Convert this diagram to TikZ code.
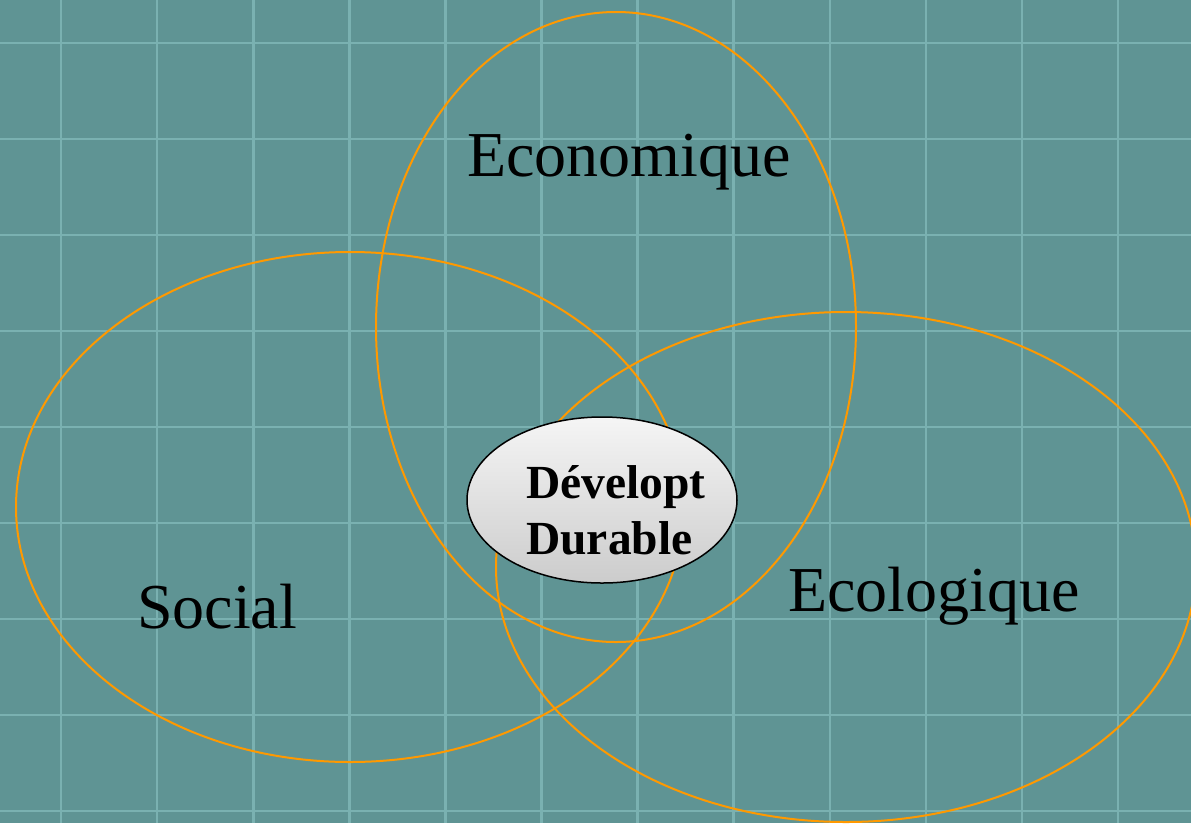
\documentclass[tikz,border=0pt]{standalone}
\usepackage{fontspec}
\setmainfont{Liberation Serif}
\usetikzlibrary{shapes.geometric}
\definecolor{bg}{HTML}{5F9494}
\definecolor{gridc}{HTML}{7AB1B1}
\definecolor{orangec}{HTML}{FF9900}
\tikzset{
  ring/.style={draw=orangec, line width=2pt},
  bigtext/.style={anchor=base west, inner sep=0pt, font=\fontsize{64}{70}\selectfont, text=black},
  ddtext/.style={anchor=base west, inner sep=0pt, font=\fontsize{47.5}{52}\selectfont\bfseries, text=black},
  gridline/.style={draw=gridc, line width=2.6pt},
}
\begin{document}
\begin{tikzpicture}[x=1pt,y=-1pt]
\useasboundingbox (0,0) rectangle (1191,823);
\fill[bg] (0,0) rectangle (1191,823);
\foreach \i in {0,...,11} {
  \draw[gridline] ({61+96.1*\i},0) -- ({61+96.1*\i},823);
}
\foreach \j in {0,...,8} {
  \draw[gridline] (0,{43+96*\j}) -- (1191,{43+96*\j});
}
\begin{scope}
\clip (0,0) rectangle (1191,823);
\draw[ring] (616,327) ellipse [x radius=240, y radius=315];
\draw[ring] (350,507) ellipse [x radius=334, y radius=255];
\draw[ring] (846,567) ellipse [x radius=350, y radius=255];
\end{scope}
\node[draw=black, line width=1.5pt, ellipse, minimum width=270pt, minimum height=166pt, inner sep=0pt,
      top color=gray!8, bottom color=gray!40] (dd) at (602,500) {};
\node[ddtext] (dev) at (526,498) {Dévelopt};
\node[ddtext] (dur) at (526,554) {Durable};
\node[bigtext] (eco) at (467,176) {Economique};
\node[bigtext] (soc) at (137,628) {Social};
\node[bigtext] (ecol) at (788,611) {Ecologique};
\end{tikzpicture}
\end{document}
